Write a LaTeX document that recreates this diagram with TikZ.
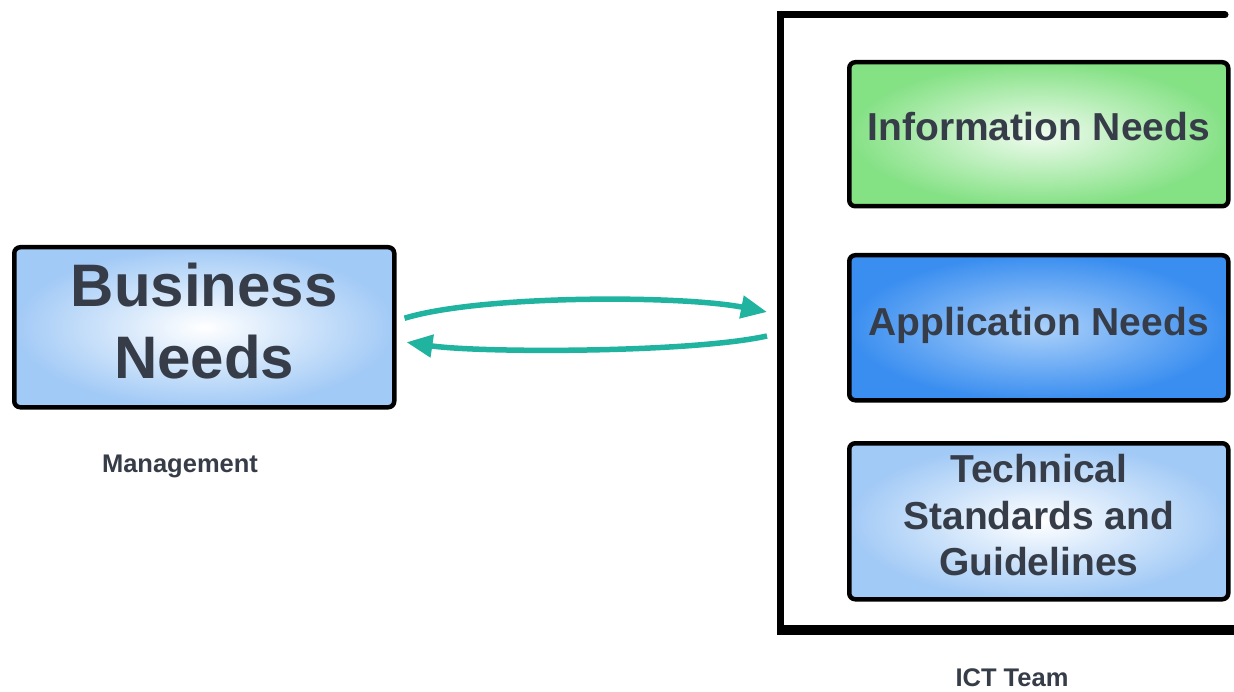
\documentclass[tikz,border=0pt]{standalone}
\usepackage{fontspec}
\setmainfont{Liberation Sans}
\usetikzlibrary{arrows.meta}
\definecolor{txt}{HTML}{363D49}
\definecolor{lblue}{HTML}{A2CAF6}
\definecolor{dblue}{HTML}{3A8EF0}
\definecolor{cblue}{HTML}{ACD1FA}
\definecolor{lgreen}{HTML}{84E184}
\definecolor{teal}{HTML}{1FB3A0}
\tikzset{
  box/.style={draw=black, line width=4.5pt, rounded corners=6pt, anchor=north west, inner sep=0pt},
  lightbox/.style={box, inner color=white, outer color=lblue},
  greenbox/.style={box, inner color=white!88!lgreen, outer color=lgreen},
  darkbox/.style={box, inner color=cblue, outer color=dblue},
  boxtext/.style={text=txt, align=center, inner sep=0pt},
  flow/.style={draw=teal, line width=5.5pt, -{Triangle[length=26pt,width=22pt]}},
  caption/.style={text=txt, font=\bfseries\fontsize{25.5}{30}\selectfont, inner sep=0pt},
  frame/.style={draw=black, line cap=round}
}
\begin{document}
\begin{tikzpicture}[x=1pt,y=-1pt]
\useasboundingbox (0,0) rectangle (1234,692);
\fill[white] (0,0) rectangle (1234,692);
% frame of ICT team
\coordinate (ftr) at (1225,15);
\coordinate (ftl) at (780,15);
\coordinate (fbl) at (780,630);
\coordinate (fbr) at (1236,630);
\draw[frame, line width=7pt] (ftr) -- (ftl) -- (fbl);
\draw[frame, line width=10pt, line cap=butt] ([xshift=-3pt]fbl) -- (fbr);
% boxes
\node[lightbox, minimum width=380pt, minimum height=160pt] (bn) at (12,245) {};
\node[greenbox, minimum width=379pt, minimum height=144pt] (in) at (847,60) {};
\node[darkbox, minimum width=379pt, minimum height=145pt] (an) at (847,253) {};
\node[lightbox, minimum width=379pt, minimum height=156pt] (ts) at (847,441) {};
% box texts
\node[boxtext, font=\bfseries\fontsize{60}{72}\selectfont] (bnt) at ([yshift=6pt]bn.center) {Business\\Needs};
\node[boxtext, font=\bfseries\fontsize{39}{46}\selectfont] (int) at ([yshift=8pt]in.center) {Information Needs};
\node[boxtext, font=\bfseries\fontsize{39}{46}\selectfont] (ant) at ([yshift=2pt]an.center) {Application Needs};
\node[boxtext, font=\bfseries\fontsize{39}{46.5}\selectfont] (tst) at ([yshift=6pt]ts.center) {Technical\\Standards and\\Guidelines};
% captions
\node[caption] (mg) at (180,466) {Management};
\node[caption] (ict) at (1012,678) {ICT Team};
% arrows
\coordinate (a1s) at ([xshift=8pt,yshift=9pt]bn.east);
\coordinate (a1e) at (767,312);
\coordinate (a2s) at (767,336);
\coordinate (a2e) at ([xshift=10pt,yshift=-15pt]bn.east);
\draw[flow] (a1s) .. controls (480,295) and (680,295) .. (a1e);
\draw[flow] (a2s) .. controls (690,353) and (480,353) .. (a2e);
\end{tikzpicture}
\end{document}
